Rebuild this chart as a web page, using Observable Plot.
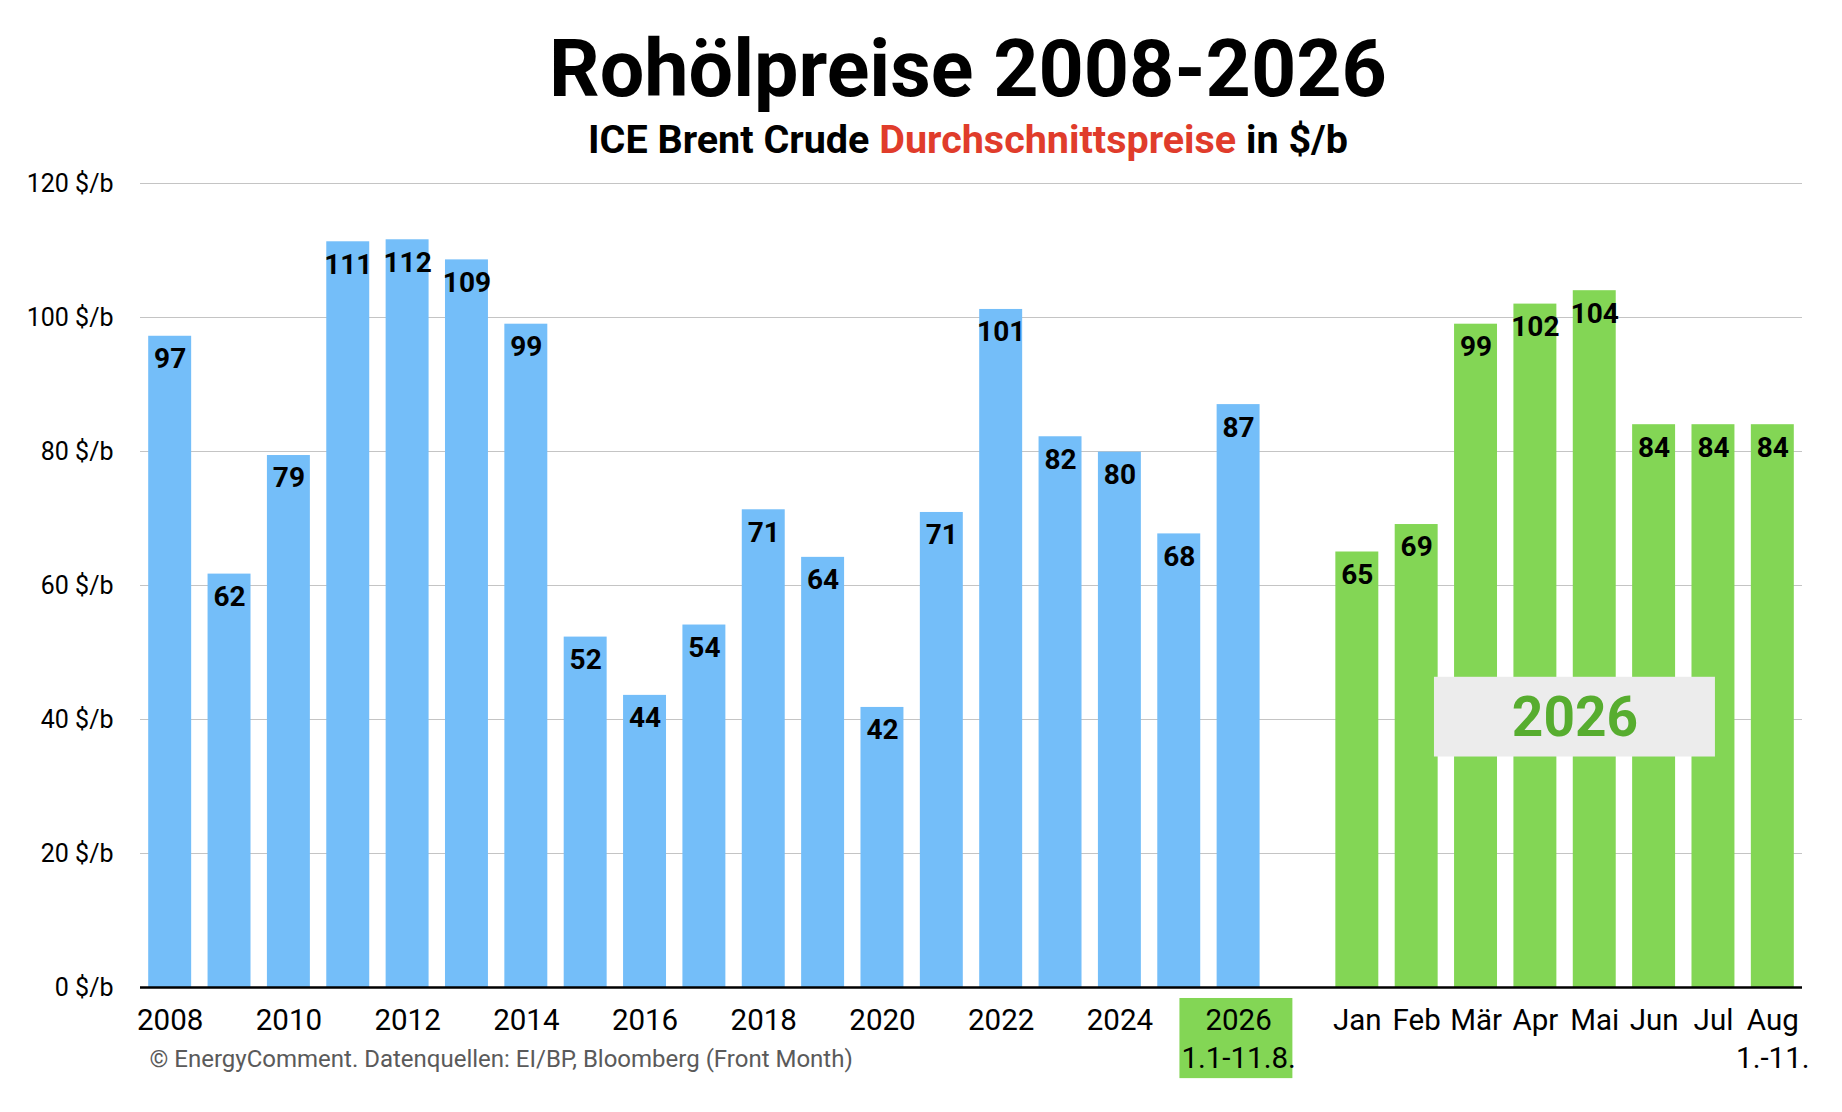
<!DOCTYPE html>
<html>
<head>
<meta charset="utf-8">
<script src="https://cdn.jsdelivr.net/npm/d3@7"></script>
<script src="https://cdn.jsdelivr.net/npm/@observablehq/plot@0.6"></script>
<style>
html,body{margin:0;padding:0;background:#fff;overflow:hidden}
#wrap{position:relative;width:1842px;height:1112px;font-family:Roboto,sans-serif}
#title{position:absolute;left:94px;width:1748px;top:30px;text-align:center;font-size:79px;font-weight:700;line-height:1;color:#000;white-space:nowrap}
#subtitle{position:absolute;left:94px;width:1748px;top:120px;text-align:center;font-size:39.5px;font-weight:700;line-height:1;color:#000;white-space:nowrap}
#subtitle span{color:#e03c2b}
#chart{position:absolute;left:0;top:163px}
</style>
</head>
<body>
<div id="wrap">
  <div id="title">Rohölpreise 2008-2026</div>
  <div id="subtitle">ICE Brent Crude <span>Durchschnittspreise</span> in $/b</div>
  <div id="chart"></div>
</div>
<script>
// ---- data ----
const years = ["2008","2009","2010","2011","2012","2013","2014","2015","2016","2017","2018","2019","2020","2021","2022","2023","2024","2025","2026"];
const yearValues = [97.2, 61.7, 79.4, 111.3, 111.6, 108.6, 99.0, 52.3, 43.6, 54.1, 71.3, 64.2, 41.8, 70.9, 101.2, 82.2, 79.9, 67.7, 87.0];
const months = ["Jan","Feb","Mär","Apr","Mai","Jun","Jul","Aug"];
const monthValues = [65.0, 69.1, 99.0, 102.0, 104.0, 84.0, 84.0, 84.0];
const gapCategory = "gap";
const categories = [...years, gapCategory, ...months];
const yTicks = [0, 20, 40, 60, 80, 100, 120];
const xTicks = ["2008","2010","2012","2014","2016","2018","2020","2022","2024","2026", ...months];
const xTickLabels = {"2026": "2026\n1.1-11.8.", "Aug": "Aug\n1.-11."};
const caption = "© EnergyComment. Datenquellen: EI/BP, Bloomberg (Front Month)";
const annotation = "2026";

const blue = "#74bef9";
const green = "#83d655";

const rows = [
  ...years.map((c, i) => ({cat: c, value: yearValues[i], color: blue})),
  ...months.map((c, i) => ({cat: c, value: monthValues[i], color: green}))
];

const barInset = 8.2;

const plot = Plot.plot({
  width: 1842,
  height: 949,
  marginTop: 20,
  marginBottom: 125,
  marginLeft: 140,
  marginRight: 40,
  style: {fontFamily: "Roboto, sans-serif", fontSize: "25px", color: "#000", background: "#fff", overflow: "visible"},
  x: {type: "band", domain: categories, padding: 0, round: false, label: null},
  y: {domain: [0, 120], nice: false, label: null},
  color: {type: "identity"},
  marks: [
    Plot.gridY(yTicks, {stroke: "#c4c4c4", strokeOpacity: 1, strokeWidth: 1.2}),
    Plot.barY(rows, {x: "cat", y: "value", fill: "color", insetLeft: barInset, insetRight: barInset}),
    // green box behind the 2026 tick label
    Plot.barY([{cat: "2026", y1: -1.64, y2: -13.6}], {x: "cat", y1: "y1", y2: "y2", fill: green, insetLeft: -29, insetRight: -24.6}),
    Plot.ruleY([0], {stroke: "#000", strokeWidth: 2.5}),
    Plot.text(rows, {x: "cat", y: "value", text: d => String(Math.round(d.value)), dy: 23, fontSize: 28, fontWeight: "bold", fill: "#000"}),
    // "2026" annotation box
    Plot.barY([{cat: "Mai", y1: 34.4, y2: 46.3}], {x: "cat", y1: "y1", y2: "y2", fill: "#ececec", insetLeft: -130.6, insetRight: -91}),
    Plot.text([{cat: "Mai", y: 40.2}], {x: "cat", y: "y", text: () => annotation, dx: -19.8, fontSize: 55, fontWeight: "bold", fill: "#57ad2f"}),
    Plot.axisY(yTicks, {anchor: "left", tickFormat: d => `${d} $/b`, tickSize: 0, tickPadding: 27, fontSize: 25, label: null}),
    Plot.axisX({ticks: xTicks, tickFormat: d => xTickLabels[d] ?? d, tickSize: 0, tickPadding: 16, fontSize: 29.5, lineHeight: 1.28, label: null}),
    Plot.text([caption], {frameAnchor: "bottom-left", text: d => d, dx: 9, dy: 79, textAnchor: "start", fontSize: 24, fill: "#5a5a5a"})
  ]
});
document.getElementById("chart").appendChild(plot);
</script>
</body>
</html>
